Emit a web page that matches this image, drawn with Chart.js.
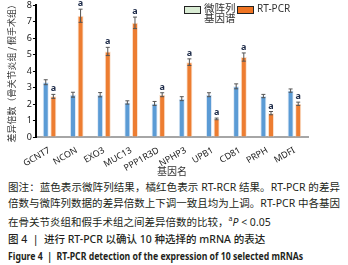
<!DOCTYPE html>
<html>
<head>
<meta charset="utf-8">
<script src="https://cdn.jsdelivr.net/npm/chart.js@4"></script>
<style>
  html, body { margin: 0; padding: 0; background: #fff; }
  body { width: 348px; height: 265px; overflow: hidden; position: relative;
         font-family: 'Noto Sans', 'Noto Sans CJK SC', sans-serif; color: #231f20; }
  #wrap { position: absolute; left: 0; top: -1px; width: 348px; height: 178px; }
  .legend { position: absolute; top: 3px; font-size: 10.5px; line-height: 10px; font-family: 'Noto Sans CJK SC', sans-serif; color: #333; }
  .legend .box { position: absolute; top: 3px; width: 15px; height: 6px; border: 1px solid #222; }
  .caption { position: absolute; left: 8px; width: 332px; font-size: 10.5px; line-height: 15.5px;
             font-family: 'Noto Sans', 'Noto Sans CJK SC', sans-serif; text-align: justify; text-align-last: justify; }
  .caption span { display: block; white-space: nowrap; }
</style>
</head>
<body>
<div id="wrap"><canvas id="chart"></canvas></div>
<div class="legend" style="left:184px;"><div class="box" style="left:0; background:#d9ecd4;"></div><div style="margin-left:20px;">微阵列<br>基因谱</div></div>
<div class="legend" style="left:237px;"><div class="box" style="left:0; background:#ef7422;"></div><div style="margin-left:20px; font-family:'Noto Sans',sans-serif; font-size:10px;">RT-PCR</div></div>
<div class="caption" style="top:180px;">
  <span>图注：蓝色表示微阵列结果，橘红色表示 RT-RCR 结果。RT-PCR 的差异</span>
  <span>倍数与微阵列数据的差异倍数上下调一致且均为上调。RT-PCR 中各基因</span>
  <span style="text-align-last:left;">在骨关节炎组和假手术组之间差异倍数的比较，<sup style="font-size:7px;">a</sup><i>P</i> &lt; 0.05</span>
  <span style="text-align-last:left; margin-top:2px; font-weight:500;">图 4 &nbsp;|&nbsp; 进行 RT-PCR 以确认 10 种选择的 mRNA 的表达</span>
  <span style="text-align-last:left; margin-top:1px; font-weight:bold; font-size:10px; transform:scaleX(0.87); transform-origin:left;">Figure 4 &nbsp;|&nbsp; RT-PCR detection of the expression of 10 selected mRNAs</span>
</div>
<script>
const genes = ['GCNT7', 'NCON', 'EXO3', 'MUC13', 'PPP1R3D', 'NPHP3', 'UPB1', 'CD81', 'PRPH', 'MDFI'];
const microarray = [3.33, 2.57, 2.57, 2.10, 2.04, 2.33, 2.57, 3.08, 2.49, 2.82];
const microarrayErr = [0.15, 0.15, 0.13, 0.10, 0.12, 0.12, 0.12, 0.15, 0.10, 0.10];
const rtpcr = [2.47, 7.37, 5.20, 6.94, 2.57, 4.55, 1.10, 4.86, 1.45, 2.02];
const rtpcrErr = [0.12, 0.40, 0.25, 0.35, 0.12, 0.20, 0.05, 0.25, 0.10, 0.10];
const sigMarks = ['a', 'a', 'a', 'a', 'a', 'a', 'a', 'a', 'a', 'a'];
const yTicks = [0, 1, 2, 3, 4, 5, 6, 7, 8];

const errorBars = {
    id: 'errorBars',
    afterDatasetsDraw(chart) {
        const ctx = chart.ctx;
        const y = chart.scales.y;
        const errs = [microarrayErr, rtpcrErr];
        ctx.save();
        chart.data.datasets.forEach((ds, di) => {
            const meta = chart.getDatasetMeta(di);
            meta.data.forEach((bar, i) => {
                const v = ds.data[i];
                const top = y.getPixelForValue(v + errs[di][i]);
                const bot = y.getPixelForValue(v - errs[di][i]);
                ctx.strokeStyle = '#555';
                ctx.lineWidth = 1;
                ctx.beginPath();
                ctx.moveTo(bar.x, top); ctx.lineTo(bar.x, bot);
                ctx.moveTo(bar.x - 2, top); ctx.lineTo(bar.x + 2, top);
                ctx.moveTo(bar.x - 2, bot); ctx.lineTo(bar.x + 2, bot);
                ctx.stroke();
                if (di === 1) {
                    ctx.fillStyle = '#1c2a48';
                    ctx.font = 'bold 9px "Noto Sans", sans-serif';
                    ctx.textAlign = 'center';
                    ctx.textBaseline = 'bottom';
                    ctx.fillText(sigMarks[i], bar.x, top - 1);
                }
            });
        });
        ctx.restore();
    }
};

new Chart(document.getElementById('chart'), {
    type: 'bar',
    data: {
        labels: genes,
        datasets: [
            {
                label: '微阵列基因谱',
                data: microarray,
                backgroundColor: '#5b9bd5',
                borderColor: 'rgba(220,232,245,0.9)',
                borderWidth: 1,
                barPercentage: 0.8,
                categoryPercentage: 0.56,
            },
            {
                label: 'RT-PCR',
                data: rtpcr,
                backgroundColor: '#ed7d31',
                borderColor: 'rgba(250,225,205,0.9)',
                borderWidth: 1,
                barPercentage: 0.8,
                categoryPercentage: 0.56,
            }
        ]
    },
    options: {
        responsive: true,
        maintainAspectRatio: false,
        animation: false,
        layout: { padding: { left: 6, right: 40, top: 4, bottom: 0 } },
        plugins: {
            legend: { display: false },
            tooltip: { enabled: false }
        },
        scales: {
            x: {
                grid: { display: false },
                border: { color: '#a6a6a6', width: 2 },
                afterFit: (axis) => { axis.height = 40; },
                ticks: {
                    color: '#1a1a1a',
                    font: { family: 'Noto Sans', size: 9 },
                    autoSkip: false,
                    minRotation: 30,
                    maxRotation: 30,
                    padding: 0
                },
                title: {
                    display: true,
                    text: '基因名',
                    color: '#333',
                    font: { family: 'Noto Sans CJK SC', size: 10 },
                    padding: { top: 0, bottom: 0 }
                }
            },
            y: {
                min: 0,
                max: 8,
                afterBuildTicks: (axis) => { axis.ticks = yTicks.map(v => ({ value: v })); },
                grid: { drawOnChartArea: false, color: '#000', tickLength: 3 },
                border: { color: '#000', width: 2 },
                ticks: {
                    color: '#1a1a1a',
                    font: { family: 'Noto Sans', size: 9 },
                    padding: 1
                },
                title: {
                    display: true,
                    text: '差异倍数（骨关节炎组 / 假手术组）',
                    color: '#333',
                    font: { family: 'Noto Sans CJK SC', size: 9 },
                    padding: { top: 0, bottom: 9 }
                }
            }
        }
    },
    plugins: [errorBars]
});
</script>
</body>
</html>
